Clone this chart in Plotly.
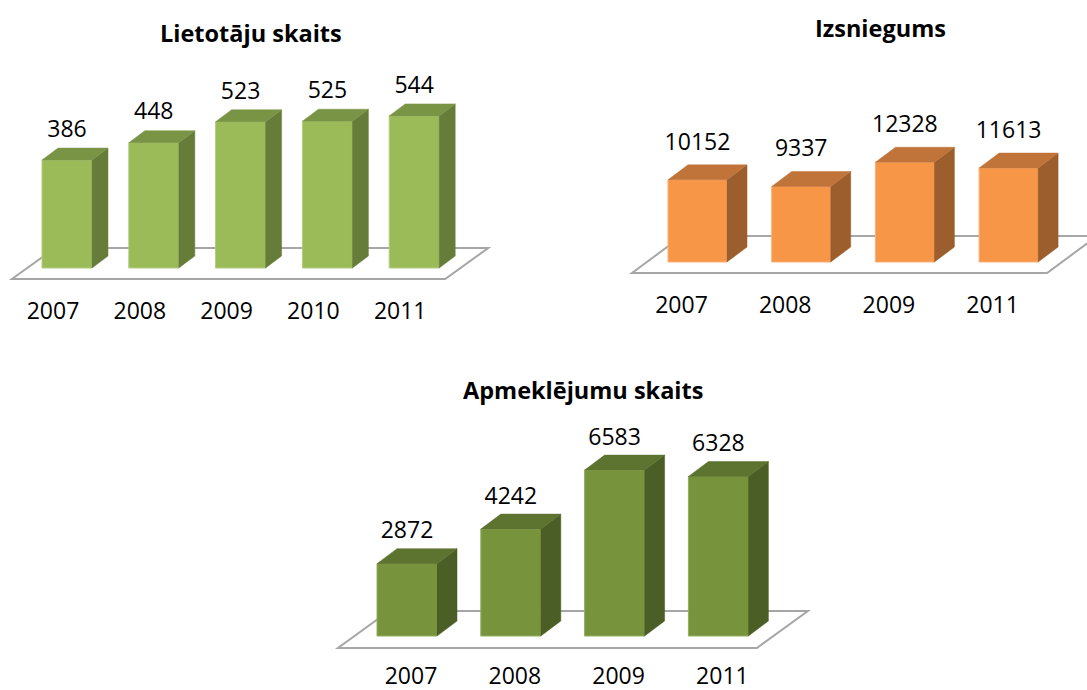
import plotly.graph_objects as go

W, H = 1087, 690

# ---------------- data ----------------
users_years = ["2007", "2008", "2009", "2010", "2011"]
users_values = [386, 448, 523, 525, 544]

loans_years = ["2007", "2008", "2009", "2011"]
loans_values = [10152, 9337, 12328, 11613]

visits_years = ["2007", "2008", "2009", "2011"]
visits_values = [2872, 4242, 6583, 6328]

titles = ["Lietotāju skaits", "Izsniegums", "Apmeklējumu skaits"]

FONT = "'Open Sans', Lato, sans-serif"
LABEL_SIZE = 23
TITLE_SIZE = 23.5

# ---------------- layout geometry (pixels) ----------------
charts = [
    dict(years=users_years, values=users_values, title=titles[0],
         box=(0, 500, 50, 330), c0=67, sp=86.8, bw=50, base=268, s=0.2796,
         depth=(16, 12), floor=(-55, 31, 11, 20, 43),
         title_xy=(251, 33), label_off=29, year_dx=-14, year_y=313,
         colors=("#9BBB59", "#7A9446", "#667D3A", "#B2CC80")),
    dict(years=loans_years, values=loans_values, title=titles[1],
         box=(600, 1087, 50, 330), c0=697.5, sp=103.7, bw=59, base=262, s=0.00809,
         depth=(20, 15), floor=(-65.5, 38.5, 11, 26, 50),
         title_xy=(880, 28), label_off=36, year_dx=-16, year_y=307,
         colors=("#F79646", "#C0743A", "#9B5E2C", "#FAB07A")),
    dict(years=visits_years, values=visits_values, title=titles[2],
         box=(320, 830, 370, 690), c0=407, sp=103.8, bw=60, base=636, s=0.0252,
         depth=(20, 15), floor=(-69, 38.5, 12, 25, 51),
         title_xy=(583, 390), label_off=31, year_dx=4, year_y=678,
         colors=("#77933C", "#5D7330", "#4B5E25", "#94AE5E")),
]

fig = go.Figure()
shapes = []
annotations = []

for k, ch in enumerate(charts, start=1):
    xa = "x" if k == 1 else f"x{k}"
    ya = "y" if k == 1 else f"y{k}"
    x0, x1, y0, y1 = ch["box"]
    c0, sp, s, base = ch["c0"], ch["sp"], ch["s"], ch["base"]
    n = len(ch["values"])
    idx = list(range(n))
    hw = ch["bw"] / sp / 2
    ddx = ch["depth"][0] / sp
    ddy = ch["depth"][1] / s
    front, top, side, edge = ch["colors"]

    # axes
    xr = [(x0 - c0) / sp, (x1 - c0) / sp]
    yr = [(base - y1) / s, (base - y0) / s]
    fig.layout[f"xaxis{'' if k == 1 else k}"] = dict(
        domain=[x0 / W, x1 / W], range=xr, visible=False, fixedrange=True, anchor=ya)
    fig.layout[f"yaxis{'' if k == 1 else k}"] = dict(
        domain=[1 - y1 / H, 1 - y0 / H], range=yr, visible=False, fixedrange=True, anchor=xa)

    # floor (drawn below traces)
    fl, fr, ffront, fback, fdx = ch["floor"]
    yf = -ffront / s
    yb = fback / s
    xl = fl / sp
    xrt = (n - 1) + fr / sp
    dxf = fdx / sp
    path = (f"M {xl},{yf} L {xrt},{yf} L {xrt + dxf},{yb} "
            f"L {xl + dxf},{yb} Z")
    shapes.append(dict(type="path", path=path, xref=xa, yref=ya, layer="below",
                       fillcolor="white", line=dict(color="#A6A6A6", width=2)))

    # front faces
    fig.add_trace(go.Bar(x=idx, y=ch["values"], width=[2 * hw] * n,
                         marker=dict(color=front, line=dict(color=edge, width=1)),
                         xaxis=xa, yaxis=ya, hoverinfo="skip"))

    # side faces
    sx, sy = [], []
    for i, v in zip(idx, ch["values"]):
        sx += [i + hw, i + hw + ddx, i + hw + ddx, i + hw, i + hw, None]
        sy += [0, ddy, v + ddy, v, 0, None]
    fig.add_trace(go.Scatter(x=sx, y=sy, mode="lines", fill="toself",
                             fillcolor=side, line=dict(color=side, width=0.5),
                             xaxis=xa, yaxis=ya, hoverinfo="skip"))
    # top faces
    tx, ty = [], []
    for i, v in zip(idx, ch["values"]):
        tx += [i - hw, i + hw, i + hw + ddx, i - hw + ddx, i - hw, None]
        ty += [v, v, v + ddy, v + ddy, v, None]
    fig.add_trace(go.Scatter(x=tx, y=ty, mode="lines", fill="toself",
                             fillcolor=top, line=dict(color=top, width=0.5),
                             xaxis=xa, yaxis=ya, hoverinfo="skip"))

    # value labels
    fig.add_trace(go.Scatter(x=idx, y=[v + ch["label_off"] / s for v in ch["values"]],
                             mode="text", text=[str(v) for v in ch["values"]],
                             textposition="middle center",
                             textfont=dict(family=FONT, size=LABEL_SIZE, color="#000000"),
                             cliponaxis=False, xaxis=xa, yaxis=ya, hoverinfo="skip"))
    # category labels
    fig.add_trace(go.Scatter(x=[i + ch["year_dx"] / sp for i in idx],
                             y=[(base - ch["year_y"]) / s] * n,
                             mode="text", text=ch["years"],
                             textposition="middle center",
                             textfont=dict(family=FONT, size=LABEL_SIZE, color="#000000"),
                             cliponaxis=False, xaxis=xa, yaxis=ya, hoverinfo="skip"))

    tx_, ty_ = ch["title_xy"]
    annotations.append(dict(text=f"<b>{ch['title']}</b>", x=tx_ / W, y=1 - ty_ / H,
                            xref="paper", yref="paper", xanchor="center", yanchor="middle",
                            showarrow=False,
                            font=dict(family=FONT, size=TITLE_SIZE, color="#000000")))

fig.update_layout(width=W, height=H, margin=dict(l=0, r=0, t=0, b=0),
                  paper_bgcolor="white", plot_bgcolor="rgba(0,0,0,0)",
                  showlegend=False, shapes=shapes, annotations=annotations,
                  barmode="overlay")

fig.write_html("out.html", config={"displayModeBar": False},
               post_script="document.body.style.margin='0px';document.body.style.overflow='hidden';")
